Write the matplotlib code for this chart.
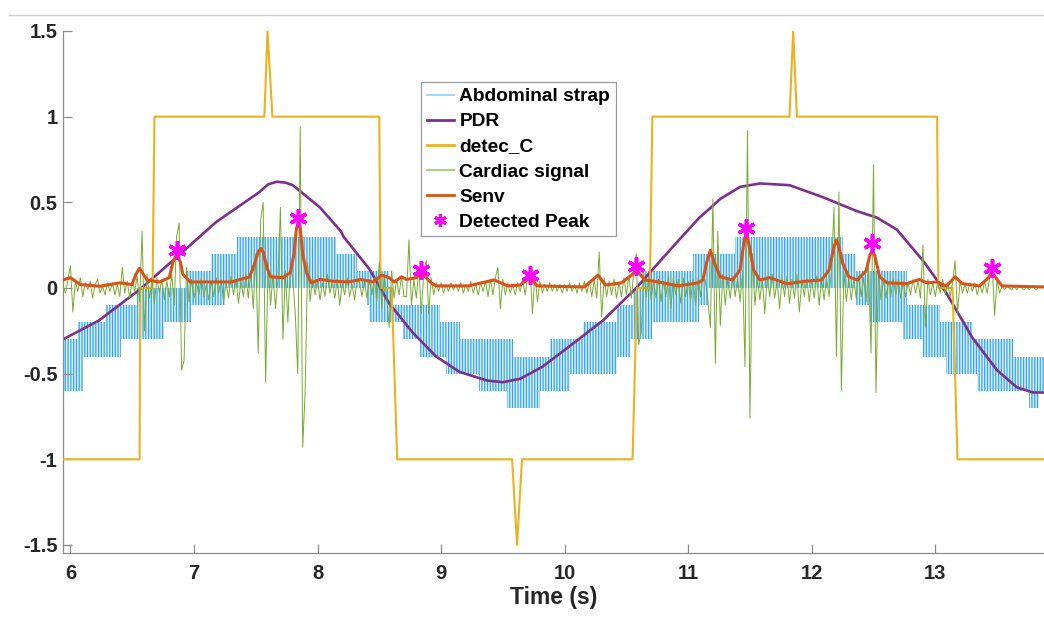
import numpy as np
import matplotlib
matplotlib.use("Agg")
import matplotlib.pyplot as plt
from matplotlib.lines import Line2D

# ---- data ----
# abdominal strap: quantized signal, toggling between adjacent levels -> bands
strap_start = [5.94, 5.94, 6.06, 6.29, 6.54, 6.94, 7.14, 7.35, 8.40, 8.42, 8.69, 8.83, 9.04, 9.31, 9.53,
               9.88, 10.15, 10.42, 10.55, 10.62, 11.04, 11.38, 12.36, 12.47, 12.74, 12.90, 13.09, 13.34, 13.76]
strap_end = [6.10, 6.41, 6.76, 6.98, 7.25, 8.58, 8.32, 8.15, 8.61, 8.99, 9.15, 9.58, 10.42, 10.04, 9.80,
             10.53, 10.71, 11.09, 11.17, 12.77, 12.36, 12.25, 12.77, 13.04, 13.30, 13.63, 13.88, 13.88, 13.84]
strap_low = [-0.6, -0.4, -0.3, -0.2, -0.1, 0.0, 0.1, 0.2, -0.1, -0.2, -0.3, -0.4, -0.5, -0.6, -0.7,
             -0.4, -0.3, -0.2, -0.1, 0.0, 0.1, 0.2, -0.1, -0.2, -0.3, -0.4, -0.5, -0.6, -0.7]
strap_high = [-0.4, -0.3, -0.2, -0.1, 0.0, 0.1, 0.2, 0.3, 0.0, -0.1, -0.2, -0.3, -0.4, -0.5, -0.6,
              -0.3, -0.2, -0.1, 0.0, 0.1, 0.2, 0.3, 0.0, -0.1, -0.2, -0.3, -0.4, -0.5, -0.6]

pdr_t = [5.94, 6.23, 6.56, 6.86, 7.18, 7.53, 7.60, 7.67, 7.74, 7.80, 8.02, 8.19, 8.21, 8.42, 8.58, 8.77,
         8.96, 9.15, 9.37, 9.50, 9.64, 9.82, 10.04, 10.31, 10.58, 10.85, 11.09, 11.20, 11.26, 11.42, 11.58,
         11.82, 12.09, 12.36, 12.53, 12.69, 12.90, 13.09, 13.30, 13.50, 13.66, 13.79, 13.88]
pdr_v = [-0.30, -0.19, -0.01, 0.18, 0.385, 0.56, 0.605, 0.62, 0.615, 0.60, 0.47, 0.33, 0.30, 0.11, -0.09, -0.26,
         -0.40, -0.49, -0.54, -0.55, -0.53, -0.46, -0.34, -0.19, 0.0, 0.22, 0.41, 0.48, 0.52, 0.59, 0.61,
         0.60, 0.53, 0.45, 0.41, 0.34, 0.16, -0.03, -0.29, -0.48, -0.58, -0.61, -0.61]

detec_t = [5.94, 6.56, 6.565, 6.665, 6.68, 7.57, 7.595, 7.635, 8.50, 8.51, 8.60, 8.645, 9.575, 9.615, 9.655,
           10.55, 10.585, 10.69, 10.71, 11.82, 11.85, 11.88, 13.015, 13.025, 13.14, 13.18, 13.88]
detec_v = [-1, -1, 0, 0, 1, 1, 1.5, 1, 1, 0, 0, -1, -1, -1.5, -1,
           -1, 0, 0, 1, 1, 1.5, 1, 1, 0, 0, -1, -1]

# cardiac signal, one value every 0.02 s from 5.94 s
card_start = 5.94
card_dt = 0.02
card_v = [
    0.02, -0.03, 0.05, 0.13, -0.14, 0.04, -0.02, 0.06, -0.05, 0.03, -0.01, 0.04, -0.06, 0.02, 0.05, -0.03, 0.01, -0.04, 0.03, -0.02,
    0.03, -0.04, 0.02, -0.05, 0.12, -0.03, 0.04, -0.06, 0.05, -0.02, 0.07, -0.08, 0.33, -0.25, 0.08, -0.06, 0.04, -0.09, 0.06, -0.03,
    0.05, -0.07, 0.04, -0.05, 0.08, -0.1, 0.3, 0.38, -0.48, -0.42, 0.12, -0.08, 0.05, -0.06, 0.03, -0.04, 0.06, -0.05, 0.02, -0.07,
    0.04, -0.05, 0.06, -0.03, 0.05, -0.08, 0.03, -0.06, 0.07, -0.04, 0.05, -0.09, 0.04, -0.05, 0.08, -0.06, 0.1, -0.12, 0.2, -0.38,
    0.4, 0.5, -0.55, 0.15, -0.1, 0.08, -0.12, 0.06, 0.47, -0.3, 0.1, -0.2, 0.12, 0.05, -0.15, -0.5, 0.94, -0.93, -0.6, 0.15,
    -0.08, 0.06, -0.04, 0.05, -0.07, 0.03, -0.05, 0.08, -0.03, 0.04, -0.06, 0.05, -0.1, 0.03, -0.04, 0.06, -0.05, 0.02, -0.07, 0.05,
    0.03, -0.05, 0.04, -0.06, 0.05, -0.04, 0.06, -0.08, 0.15, -0.12, 0.08, -0.05, -0.23, 0.1, -0.06, 0.05, -0.04, 0.07, -0.05, -0.05,
    0.28, -0.1, 0.05, -0.06, 0.12, -0.15, 0.1, 0.16, -0.15, 0.06, -0.04, 0.03, -0.02, 0.03, -0.03, 0.02, -0.02, 0.03, -0.01, 0.02,
    -0.02, 0.03, -0.03, 0.02, -0.02, 0.04, -0.03, 0.02, -0.04, 0.03, -0.02, 0.04, -0.05, 0.05, -0.04, 0.06, 0.12, -0.12, 0.05, -0.04,
    0.03, -0.03, 0.02, -0.04, 0.03, -0.02, 0.05, -0.04, 0.06, 0.12, -0.15, 0.08, -0.08, 0.04, -0.03, 0.02, -0.02, 0.03, -0.02, 0.02,
    -0.02, 0.02, -0.03, 0.02, -0.02, 0.03, -0.02, 0.02, -0.03, 0.03, -0.02, 0.04, -0.03, 0.04, -0.05, 0.05, -0.06, 0.21, -0.17, 0.06,
    -0.05, 0.04, -0.04, 0.05, -0.06, 0.03, -0.05, 0.06, -0.04, 0.07, -0.06, 0.1, 0.2, -0.33, -0.26, 0.08, -0.05, 0.06, -0.07, 0.05,
    -0.06, 0.05, -0.08, 0.04, -0.05, 0.07, -0.12, 0.06, -0.04, 0.05, -0.09, 0.06, -0.05, 0.04, -0.07, 0.05, -0.1, 0.06, -0.05, 0.07,
    0.04, -0.08, -0.23, 0.52, -0.44, 0.33, -0.22, 0.08, -0.1, 0.05, -0.06, 0.07, -0.05, 0.06, -0.08, 0.1, -0.46, 0.92, -0.76, 0.2,
    -0.1, 0.06, -0.07, 0.05, -0.15, 0.07, -0.05, 0.08, -0.06, 0.04, -0.12, 0.06, -0.05, 0.07, -0.09, 0.05, -0.06, 0.08, -0.14, 0.05,
    -0.05, 0.06, -0.08, 0.05, -0.06, 0.07, -0.1, 0.05, -0.07, 0.06, -0.05, 0.1, 0.47, -0.4, 0.56, -0.6, 0.1, -0.08, 0.06, -0.07,
    0.05, -0.06, 0.07, -0.05, 0.06, -0.08, 0.12, -0.38, 0.72, -0.61, 0.1, -0.07, 0.05, -0.06, 0.04, -0.05, 0.06, -0.04, 0.05, -0.06,
    0.04, -0.05, 0.03, -0.04, 0.05, -0.03, 0.04, -0.06, 0.25, -0.23, 0.05, -0.04, 0.03, -0.05, 0.04, -0.03, 0.05, -0.04, 0.03, -0.05,
    0.03, 0.16, -0.15, 0.04, -0.03, 0.02, -0.03, 0.03, -0.02, 0.03, -0.04, 0.02, -0.03, 0.04, -0.03, 0.06, 0.15, -0.16, 0.05, -0.03,
    0.01, -0.01, 0.01, 0.0, -0.01, 0.01, -0.01, 0.01, 0.0, -0.01, 0.01, -0.01, 0.01, 0.0, -0.01, 0.01, 0.0, 0.01,
]

senv_t = [5.94, 6.00, 6.08, 6.24, 6.40, 6.50, 6.53, 6.56, 6.59, 6.62, 6.72, 6.80, 6.83, 6.86, 6.89, 6.91,
          6.97, 7.30, 7.45, 7.49, 7.52, 7.54, 7.56, 7.59, 7.62, 7.72, 7.78, 7.81, 7.83, 7.845, 7.86, 7.88,
          7.91, 7.95, 8.02, 8.12, 8.25, 8.35, 8.45, 8.52, 8.58, 8.62, 8.68, 8.72, 8.80, 8.84, 8.92, 8.96,
          9.22, 9.43, 9.54, 9.64, 9.72, 9.78, 10.16, 10.27, 10.33, 10.46, 10.55, 10.58, 10.61, 10.65, 10.76,
          10.92, 11.08, 11.12, 11.15, 11.18, 11.21, 11.26, 11.36, 11.42, 11.45, 11.47, 11.49, 11.53, 11.58,
          11.66, 11.80, 11.96, 12.08, 12.14, 12.18, 12.20, 12.22, 12.25, 12.30, 12.37, 12.44, 12.47, 12.49,
          12.51, 12.55, 12.61, 12.77, 12.87, 12.93, 13.01, 13.09, 13.16, 13.22, 13.36, 13.43, 13.46, 13.49,
          13.54, 13.88]
senv_v = [0.047, 0.06, 0.02, 0.01, 0.03, 0.02, 0.08, 0.115, 0.08, 0.047, 0.035, 0.06, 0.15, 0.2, 0.15, 0.08,
          0.035, 0.035, 0.065, 0.14, 0.21, 0.23, 0.21, 0.12, 0.065, 0.06, 0.09, 0.2, 0.35, 0.385, 0.35, 0.2,
          0.09, 0.03, 0.05, 0.04, 0.035, 0.05, 0.035, 0.075, 0.06, 0.035, 0.065, 0.05, 0.06, 0.09, 0.03, 0.012,
          0.012, 0.047, 0.012, 0.017, 0.06, 0.012, 0.006, 0.075, 0.017, 0.03, 0.08, 0.11, 0.08, 0.047, 0.035,
          0.012, 0.03, 0.047, 0.15, 0.22, 0.15, 0.065, 0.047, 0.105, 0.26, 0.33, 0.26, 0.105, 0.047,
          0.06, 0.025, 0.04, 0.047, 0.105, 0.24, 0.28, 0.24, 0.145, 0.065, 0.047, 0.1, 0.19, 0.22,
          0.19, 0.065, 0.03, 0.025, 0.05, 0.03, 0.035, 0.012, 0.065, 0.025, 0.012, 0.06, 0.09, 0.06,
          0.012, 0.006]

peak_t = [6.86, 7.84, 8.84, 9.72, 10.58, 11.47, 12.49, 13.46]
peak_v = [0.22, 0.41, 0.105, 0.076, 0.13, 0.35, 0.26, 0.115]

yticks = [-1.5, -1, -0.5, 0, 0.5, 1, 1.5]
ytick_labels = ['-1.5', '-1', '-0.5', '0', '0.5', '1', '1.5']
xticks = [6, 7, 8, 9, 10, 11, 12, 13]

# ---- plot ----
plt.rcParams['font.family'] = ['Liberation Sans', 'DejaVu Sans']
plt.rcParams['font.weight'] = 'bold'
plt.rcParams['hatch.linewidth'] = 0.9

fig = plt.figure(figsize=(10.44, 6.17), dpi=100)
ax = fig.add_axes([63 / 1044, 1 - 553 / 617, 1 - 63 / 1044, (553 - 31) / 617])

c_strap = '#34a4f4'
c_pdr = '#7e2f8e'
c_detec = '#edb120'
c_card = '#77ac30'
c_senv = '#d95319'

for t0, t1, lo, hi in zip(strap_start, strap_end, strap_low, strap_high):
    ax.fill_between([t0, t1], [lo, lo], [hi, hi], facecolor='#d9effd',
                    edgecolor=c_strap, hatch='||||||', linewidth=0, zorder=1)

ax.plot(pdr_t, pdr_v, color=c_pdr, lw=1.9, zorder=2)
ax.plot(detec_t, detec_v, color=c_detec, lw=1.5, zorder=3)
card_t = card_start + card_dt * np.arange(len(card_v))
ax.plot(card_t, card_v, color=c_card, lw=0.7, zorder=4)
ax.plot(senv_t, senv_v, color=c_senv, lw=2.2, zorder=5)
ax.plot(peak_t, peak_v, ls='none', marker=(6, 2, 0), ms=13, mew=2.6,
        color='#ff00ff', zorder=6)

ax.set_xlim(5.94, 13.88)
ax.set_ylim(-1.547, 1.5)
ax.set_xticks(xticks)
ax.set_xticklabels([str(x) for x in xticks])
ax.set_yticks(yticks)
ax.set_yticklabels(ytick_labels)
ax.tick_params(direction='in', length=6.5, width=0.9, color='#8c8c8c',
               labelsize=14.5, labelcolor='#262626')
ax.tick_params(axis='x', pad=8)
ax.tick_params(axis='y', pad=4)
for side in ['top', 'right']:
    ax.spines[side].set_visible(False)
for side in ['left', 'bottom']:
    ax.spines[side].set_color('#8c8c8c')
    ax.spines[side].set_linewidth(0.9)
ax.set_xlabel('Time (s)', fontsize=16.5, fontweight='bold', color='#262626', labelpad=2)

handles = [
    Line2D([], [], color='#8fd0f7', lw=1.2),
    Line2D([], [], color=c_pdr, lw=2.0),
    Line2D([], [], color=c_detec, lw=2.0),
    Line2D([], [], color='#a6d27a', lw=1.5),
    Line2D([], [], color=c_senv, lw=2.0),
    Line2D([], [], ls='none', marker=(6, 2, 0), ms=9, mew=2.2, color='#ff00ff'),
]
labels = ['Abdominal strap', 'PDR', 'detec_C', 'Cardiac signal', 'Senv', 'Detected Peak']
leg = ax.legend(handles, labels, loc='upper left', bbox_to_anchor=(0.365, 0.902),
                borderaxespad=0, fontsize=13.8, frameon=True, fancybox=False,
                edgecolor='#9a9a9a', framealpha=1, handlelength=1.4,
                handletextpad=0.3, borderpad=0.3, labelspacing=0.4)
leg.get_frame().set_linewidth(0.9)

# thin separator line at the top of the screenshot
fig.add_artist(Line2D([9 / 1044, 1], [1 - 15 / 617, 1 - 15 / 617],
                      transform=fig.transFigure, color='#cfcfcf', lw=1))

fig.savefig('out.png', dpi=100)
